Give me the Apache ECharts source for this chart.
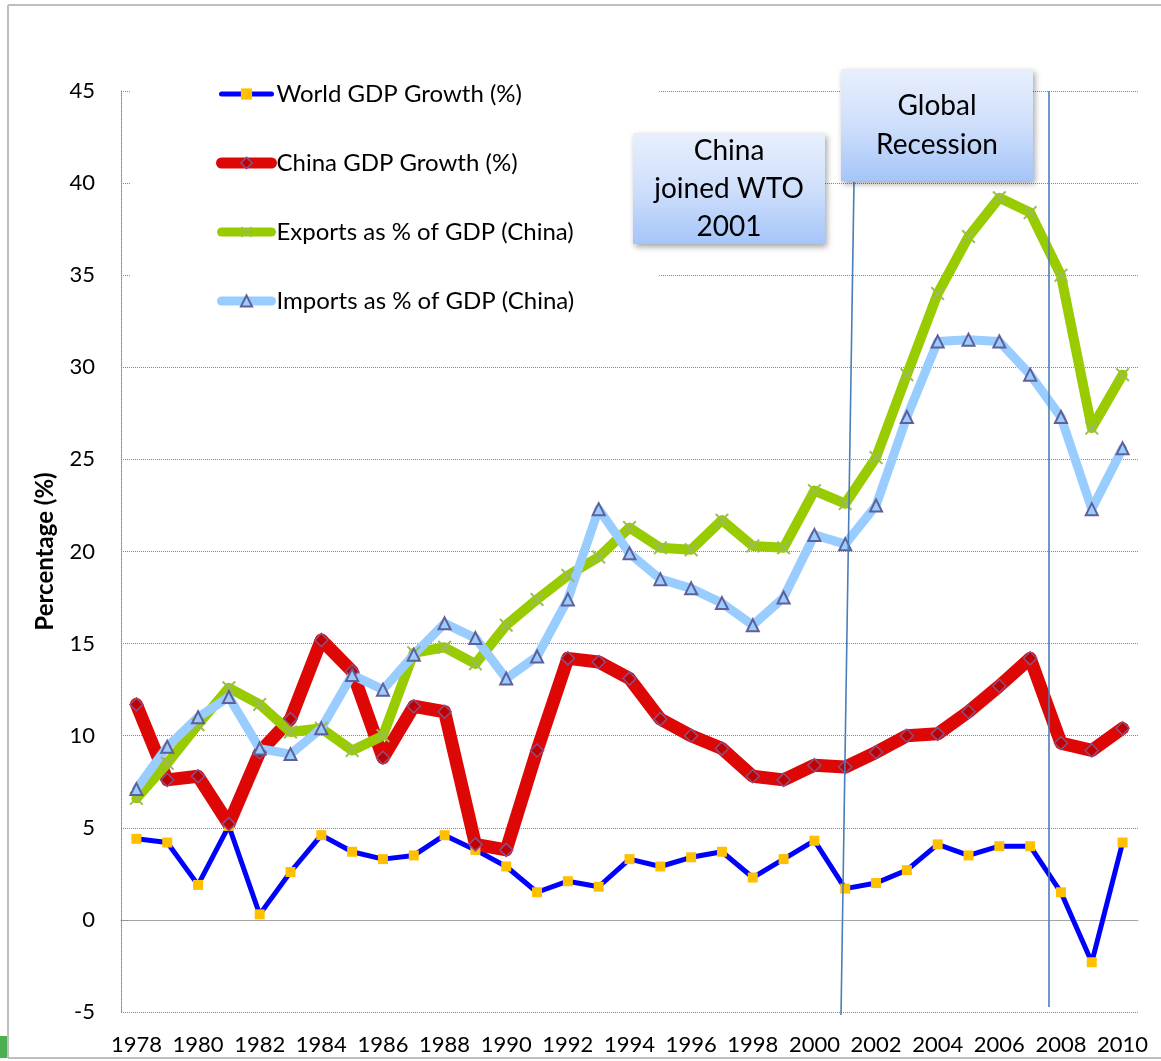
<!DOCTYPE html>
<html>
<head>
<meta charset="utf-8">
<script src="https://cdn.jsdelivr.net/npm/echarts@6/dist/echarts.min.js"></script>
<style>
  html, body { margin: 0; padding: 0; background: #fff; }
  #chart { width: 1161px; height: 1061px; }
</style>
</head>
<body>
<div id="chart"></div>
<script>
// years on the category axis
const years = [];
for (let y = 1978; y <= 2010; y++) years.push(String(y));

const worldGdp = [4.4, 4.2, 1.9, 5.1, 0.3, 2.6, 4.6, 3.7, 3.3, 3.5, 4.6, 3.8, 2.9, 1.5, 2.1, 1.8,
  3.3, 2.9, 3.4, 3.7, 2.3, 3.3, 4.3, 1.7, 2.0, 2.7, 4.1, 3.5, 4.0, 4.0, 1.5, -2.3, 4.2];
const chinaGdp = [11.7, 7.6, 7.8, 5.2, 9.1, 10.9, 15.2, 13.5, 8.8, 11.6, 11.3, 4.1, 3.8, 9.2, 14.2, 14.0,
  13.1, 10.9, 10.0, 9.3, 7.8, 7.6, 8.4, 8.3, 9.1, 10.0, 10.1, 11.3, 12.7, 14.2, 9.6, 9.2, 10.4];
const exportsGdp = [6.6, 8.5, 10.6, 12.6, 11.7, 10.2, 10.4, 9.2, 10.0, 14.5, 14.8, 13.9, 16.0, 17.4, 18.7, 19.7,
  21.3, 20.2, 20.1, 21.7, 20.3, 20.2, 23.3, 22.6, 25.1, 29.6, 34.0, 37.1, 39.2, 38.4, 35.0, 26.7, 29.6];
const importsGdp = [7.1, 9.4, 11.0, 12.1, 9.3, 9.0, 10.4, 13.3, 12.5, 14.4, 16.1, 15.3, 13.1, 14.3, 17.4, 22.3,
  19.9, 18.5, 18.0, 17.2, 16.0, 17.5, 20.9, 20.4, 22.5, 27.3, 31.4, 31.5, 31.4, 29.6, 27.3, 22.3, 25.6];

const seriesNames = ['World GDP Growth (%)', 'China GDP Growth (%)', 'Exports as % of GDP (China)', 'Imports as % of GDP (China)'];

const FONT = 'Lato';
const crossPath = 'path://M0,1 L1,0 L5,4 L9,0 L10,1 L6,5 L10,9 L9,10 L5,6 L1,10 L0,9 L4,5 Z';

// gradient for the note boxes
function boxFill() {
  return new echarts.graphic.LinearGradient(0, 0, 0, 1, [
    { offset: 0, color: '#e8effc' },
    { offset: 0.5, color: '#cfdffb' },
    { offset: 1, color: '#a5c5f9' }
  ]);
}

function noteBox(x, y, w, h, lines, lineH) {
  const children = [{
    type: 'rect',
    z: 100,
    shape: { x: 0, y: 0, width: w, height: h },
    style: {
      fill: boxFill(),
      shadowBlur: 6,
      shadowOffsetX: 2,
      shadowOffsetY: 3,
      shadowColor: 'rgba(0,0,0,0.35)'
    }
  }];
  const top = h / 2 - (lines.length - 1) * lineH / 2;
  lines.forEach((t, i) => {
    children.push({
      type: 'text',
      z: 101,
      x: w / 2,
      y: top + i * lineH,
      style: {
        text: t,
        font: '28px ' + FONT,
        fill: '#000',
        align: 'center',
        verticalAlign: 'middle'
      }
    });
  });
  return { type: 'group', x: x, y: y, z: 100, children: children };
}

const chart = echarts.init(document.getElementById('chart'));

const option = {
  backgroundColor: '#fff',
  animation: false,
  textStyle: { fontFamily: FONT },
  grid: { left: 121, top: 91, width: 1017, height: 921 },
  legend: {
    data: [
      { name: seriesNames[0], lineStyle: { width: 5, cap: 'round' } },
      { name: seriesNames[1], lineStyle: { width: 11, cap: 'round' }, itemStyle: { color: '#c00000', borderColor: '#8a4f86', borderWidth: 1.5 } },
      { name: seriesNames[2], lineStyle: { width: 9, cap: 'round' } },
      { name: seriesNames[3], lineStyle: { width: 9, cap: 'round' } }
    ],
    orient: 'vertical',
    left: 130,
    top: 62,
    padding: [17, 85, 30, 86],
    backgroundColor: '#fff',
    itemGap: 39,
    itemWidth: 50,
    itemHeight: 14,
    textStyle: { fontSize: 24, color: '#000', lineHeight: 30, fontFamily: FONT }
  },
  xAxis: {
    type: 'category',
    data: years,
    boundaryGap: true,
    axisLine: { lineStyle: { color: '#a6a6a6', width: 1 } },
    axisTick: { show: false },
    axisLabel: { interval: 1, fontSize: 22, color: '#000', margin: 22 },
    splitLine: { show: false }
  },
  yAxis: {
    type: 'value',
    min: -5,
    max: 45,
    interval: 5,
    name: 'Percentage (%)',
    nameLocation: 'middle',
    nameGap: 64,
    nameTextStyle: { fontSize: 24, fontWeight: 'bold', color: '#000' },
    axisLine: { show: true, lineStyle: { color: '#868686', type: 'dotted', width: 1 } },
    axisTick: { show: true, inside: true, length: 8, lineStyle: { color: '#868686', type: 'dotted' } },
    axisLabel: { fontSize: 22, color: '#000', margin: 26 },
    splitLine: { lineStyle: { color: '#868686', type: 'dotted', width: 1 } }
  },
  series: [
    {
      name: seriesNames[0],
      type: 'line',
      data: worldGdp,
      symbol: 'rect',
      symbolSize: 10,
      itemStyle: { color: '#ffc000' },
      lineStyle: { color: '#0000ff', width: 5, cap: 'round', join: 'round' }
    },
    {
      name: seriesNames[1],
      type: 'line',
      data: chinaGdp,
      symbol: 'diamond',
      symbolSize: 13,
      itemStyle: { color: '#c00000', borderColor: '#8a4f86', borderWidth: 1.5 },
      lineStyle: { color: '#dd0806', width: 13, cap: 'round', join: 'round' }
    },
    {
      name: seriesNames[2],
      type: 'line',
      data: exportsGdp,
      symbol: crossPath,
      symbolSize: 14,
      itemStyle: { color: '#9bbb59' },
      lineStyle: { color: '#99cc00', width: 10, cap: 'round', join: 'round' }
    },
    {
      name: seriesNames[3],
      type: 'line',
      data: importsGdp,
      symbol: 'triangle',
      symbolSize: 12,
      itemStyle: { color: '#99ccff', borderColor: '#5f5f9a', borderWidth: 2 },
      lineStyle: { color: '#99ccff', width: 9, cap: 'round', join: 'round' }
    }
  ],
  graphic: [
    // outer frame
    { type: 'line', z: 90, shape: { x1: 8, y1: 5, x2: 1161, y2: 5 }, style: { stroke: '#bfbfbf', lineWidth: 2 } },
    { type: 'line', z: 90, shape: { x1: 8, y1: 5, x2: 8, y2: 1058 }, style: { stroke: '#bfbfbf', lineWidth: 2 } },
    { type: 'line', z: 90, shape: { x1: 8, y1: 1058, x2: 1161, y2: 1058 }, style: { stroke: '#bfbfbf', lineWidth: 2 } },
    { type: 'rect', z: 90, shape: { x: 0, y: 1036, width: 7, height: 22 }, style: { fill: '#4caf50' } },
    // marker lines for WTO entry and recession
    { type: 'line', z: 95, shape: { x1: 854, y1: 182, x2: 841, y2: 1015 }, style: { stroke: '#4a7ebb', lineWidth: 1.6 } },
    { type: 'line', z: 95, shape: { x1: 1049, y1: 91, x2: 1049, y2: 1007 }, style: { stroke: '#4a7ebb', lineWidth: 1.6 } },
    noteBox(633, 133, 192, 111, ['China', 'joined WTO', '2001'], 38),
    noteBox(841, 69, 192, 112, ['Global', 'Recession'], 39)
  ]
};

chart.setOption(option);
</script>
</body>
</html>
